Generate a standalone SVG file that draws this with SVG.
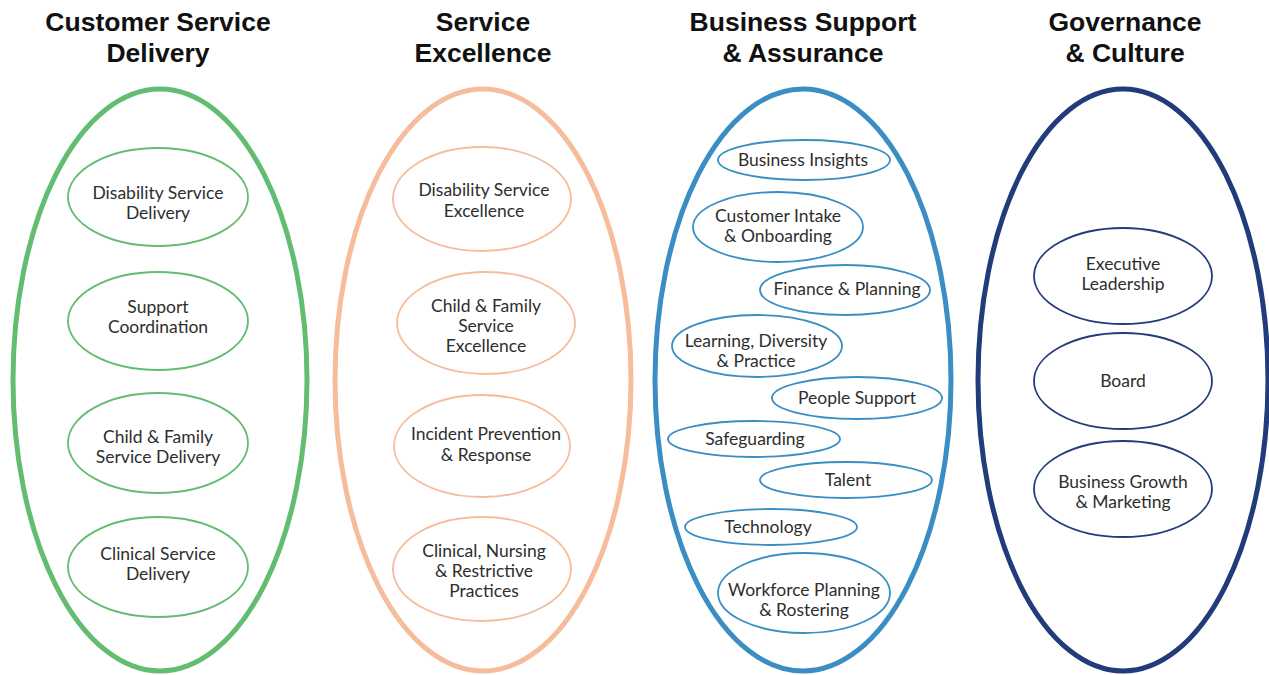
<svg xmlns="http://www.w3.org/2000/svg" width="1269" height="675" viewBox="0 0 1269 675">
<style>
.title{font-family:"Liberation Sans",Arial,sans-serif;font-weight:bold;font-size:26.5px;fill:#111;text-anchor:middle}
.lbl{font-family:Lato,"Liberation Sans",sans-serif;font-size:17.5px;fill:#2e2e2e;text-anchor:middle}
.big{fill:none;stroke-width:5}
.sm{fill:#fff;stroke-width:1.8}
.g{stroke:#62bd70}
.o{stroke:#f5bd9b}
.b{stroke:#3a8ec3}
.n{stroke:#213b7b}
</style>
<rect width="1269" height="675" fill="#fff"/>
<g id="titles">
<text class="title" x="158" y="31">Customer Service</text>
<text class="title" x="158" y="62">Delivery</text>
<text class="title" x="483" y="31">Service</text>
<text class="title" x="483" y="62">Excellence</text>
<text class="title" x="803" y="31">Business Support</text>
<text class="title" x="803" y="62">&amp; Assurance</text>
<text class="title" x="1125" y="31">Governance</text>
<text class="title" x="1125" y="62">&amp; Culture</text>
</g>
<g id="group-customer-service-delivery">
<ellipse class="big g" cx="160" cy="380" rx="147" ry="291"/>
</g>
<g id="group-service-excellence">
<ellipse class="big o" cx="483" cy="380" rx="148" ry="291"/>
</g>
<g id="group-business-support">
<ellipse class="big b" cx="803" cy="380" rx="148" ry="291"/>
</g>
<g id="group-governance">
<ellipse class="big n" cx="1123" cy="380" rx="145" ry="291"/>
</g>
<g id="node-disability-service-delivery"><ellipse class="sm g" cx="158" cy="197" rx="90" ry="49"/><text class="lbl" x="158" y="199">Disability Service</text><text class="lbl" x="158" y="219">Delivery</text></g>
<g id="node-support-coordination"><ellipse class="sm g" cx="158" cy="321" rx="90" ry="49"/><text class="lbl" x="158" y="313">Support</text><text class="lbl" x="158" y="333">Coordination</text></g>
<g id="node-child-family-service-delivery"><ellipse class="sm g" cx="158" cy="443" rx="90" ry="50"/><text class="lbl" x="158" y="443">Child &amp; Family</text><text class="lbl" x="158" y="463">Service Delivery</text></g>
<g id="node-clinical-service-delivery"><ellipse class="sm g" cx="158" cy="567" rx="90" ry="50"/><text class="lbl" x="158" y="560">Clinical Service</text><text class="lbl" x="158" y="580">Delivery</text></g>

<g id="node-disability-service-excellence"><ellipse class="sm o" cx="482" cy="199" rx="89" ry="52"/><text class="lbl" x="484" y="196">Disability Service</text><text class="lbl" x="484" y="217">Excellence</text></g>
<g id="node-child-family-service-excellence"><ellipse class="sm o" cx="486" cy="323" rx="89" ry="51"/><text class="lbl" x="486" y="312">Child &amp; Family</text><text class="lbl" x="486" y="332">Service</text><text class="lbl" x="486" y="352">Excellence</text></g>
<g id="node-incident-prevention"><ellipse class="sm o" cx="482" cy="446" rx="88" ry="51"/><text class="lbl" x="486" y="440">Incident Prevention</text><text class="lbl" x="486" y="461">&amp; Response</text></g>
<g id="node-clinical-nursing"><ellipse class="sm o" cx="482" cy="569" rx="89" ry="52"/><text class="lbl" x="484" y="557">Clinical, Nursing</text><text class="lbl" x="484" y="577">&amp; Restrictive</text><text class="lbl" x="484" y="597">Practices</text></g>

<g id="node-business-insights"><ellipse class="sm b" cx="804" cy="160" rx="86" ry="20"/><text class="lbl" x="803" y="166">Business Insights</text></g>
<g id="node-customer-intake"><ellipse class="sm b" cx="778" cy="227" rx="85" ry="35"/><text class="lbl" x="778" y="222">Customer Intake</text><text class="lbl" x="778" y="242">&amp; Onboarding</text></g>
<g id="node-finance-planning"><ellipse class="sm b" cx="845" cy="290" rx="85" ry="25"/><text class="lbl" x="847" y="295">Finance &amp; Planning</text></g>
<g id="node-learning-diversity"><ellipse class="sm b" cx="757" cy="346" rx="85" ry="31"/><text class="lbl" x="756" y="347">Learning, Diversity</text><text class="lbl" x="756" y="367">&amp; Practice</text></g>
<g id="node-people-support"><ellipse class="sm b" cx="857" cy="398" rx="85" ry="21"/><text class="lbl" x="857" y="404">People Support</text></g>
<g id="node-safeguarding"><ellipse class="sm b" cx="754" cy="439" rx="86" ry="18"/><text class="lbl" x="755" y="445">Safeguarding</text></g>
<g id="node-talent"><ellipse class="sm b" cx="846" cy="480" rx="86" ry="18"/><text class="lbl" x="848" y="486">Talent</text></g>
<g id="node-technology"><ellipse class="sm b" cx="771" cy="527" rx="86" ry="18"/><text class="lbl" x="768" y="533">Technology</text></g>
<g id="node-workforce-planning"><ellipse class="sm b" cx="804" cy="593" rx="86" ry="40"/><text class="lbl" x="804" y="596">Workforce Planning</text><text class="lbl" x="804" y="616">&amp; Rostering</text></g>

<g id="node-executive-leadership"><ellipse class="sm n" cx="1123" cy="276" rx="89" ry="48"/><text class="lbl" x="1123" y="270">Executive</text><text class="lbl" x="1123" y="290">Leadership</text></g>
<g id="node-board"><ellipse class="sm n" cx="1123" cy="381" rx="89" ry="48"/><text class="lbl" x="1123" y="387">Board</text></g>
<g id="node-business-growth"><ellipse class="sm n" cx="1123" cy="489" rx="89" ry="48"/><text class="lbl" x="1123" y="488">Business Growth</text><text class="lbl" x="1123" y="508">&amp; Marketing</text></g>
</svg>
